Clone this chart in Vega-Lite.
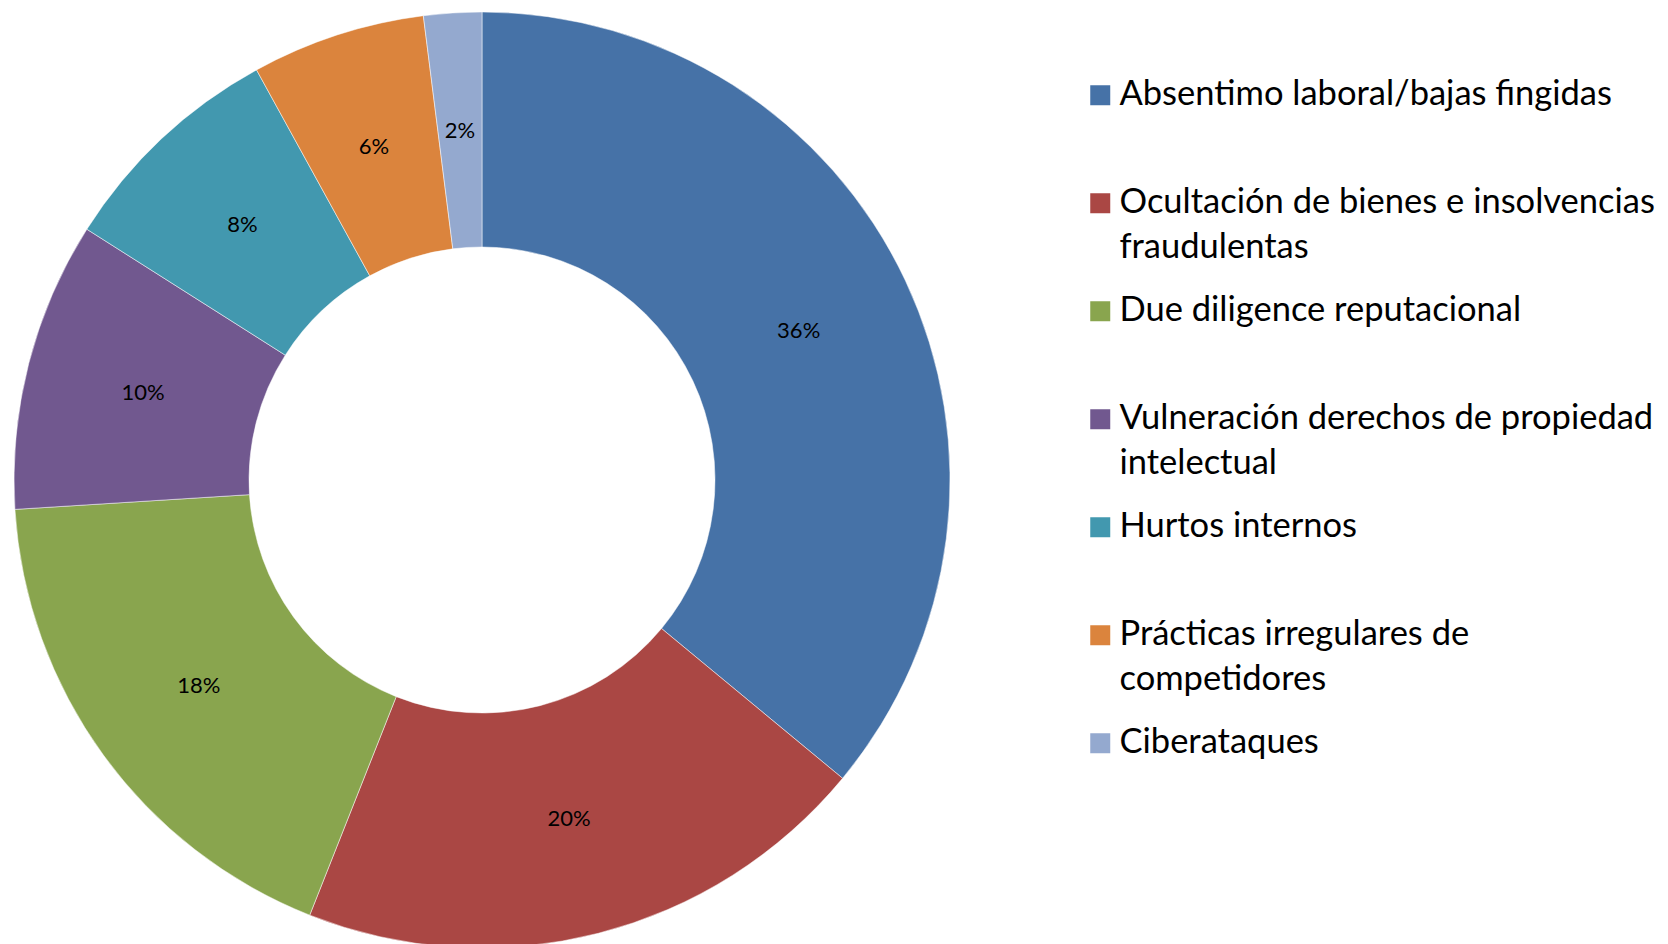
{
  "$schema": "https://vega.github.io/schema/vega-lite/v6.json",
  "width": 964,
  "height": 960,
  "autosize": "none",
  "padding": {"left": 0, "top": 0, "right": 704, "bottom": 0},
  "background": "white",
  "view": {"stroke": null},
  "config": {"style": {"guide-label": {"lineHeight": 45}}},
  "data": {
    "values": [
      {"idx": 1, "cat": "Absentimo laboral/bajas fingidas", "pct": 36, "label": "36%"},
      {"idx": 2, "cat": "Ocultación de bienes e insolvencias fraudulentas", "pct": 20, "label": "20%"},
      {"idx": 3, "cat": "Due diligence reputacional", "pct": 18, "label": "18%"},
      {"idx": 4, "cat": "Vulneración derechos de propiedad intelectual", "pct": 10, "label": "10%"},
      {"idx": 5, "cat": "Hurtos internos", "pct": 8, "label": "8%"},
      {"idx": 6, "cat": "Prácticas irregulares de competidores", "pct": 6, "label": "6%"},
      {"idx": 7, "cat": "Ciberataques", "pct": 2, "label": "2%"}
    ]
  },
  "encoding": {
    "theta": {"field": "pct", "type": "quantitative", "stack": true},
    "order": {"field": "idx", "type": "quantitative"}
  },
  "layer": [
    {
      "mark": {"type": "arc", "outerRadius": 468, "innerRadius": 233, "stroke": "white", "strokeWidth": 0.5},
      "encoding": {
        "color": {
          "field": "cat",
          "type": "nominal",
          "sort": null,
          "scale": {
            "domain": [
              "Absentimo laboral/bajas fingidas",
              "Ocultación de bienes e insolvencias fraudulentas",
              "Due diligence reputacional",
              "Vulneración derechos de propiedad intelectual",
              "Hurtos internos",
              "Prácticas irregulares de competidores",
              "Ciberataques"
            ],
            "range": ["#4672A7", "#AA4744", "#89A54E", "#71588F", "#4298AF", "#DB843D", "#94A9CF"]
          },
          "legend": {
            "title": null,
            "orient": "none",
            "legendX": 1083,
            "legendY": 78,
            "padding": 0,
            "symbolType": "square",
            "symbolSize": 400,
            "symbolStrokeWidth": 0,
            "labelFont": "Lato",
            "labelFontSize": 34.5,
            "labelColor": "black",
            "labelLimit": 700,
            "labelOffset": 2,
            "labelBaseline": "middle",
            "gridAlign": "all",
            "rowPadding": 28,
            "labelExpr": "datum.label == 'Ocultación de bienes e insolvencias fraudulentas' ? ['Ocultación de bienes e insolvencias', 'fraudulentas'] : datum.label == 'Vulneración derechos de propiedad intelectual' ? ['Vulneración derechos de propiedad', 'intelectual'] : datum.label == 'Prácticas irregulares de competidores' ? ['Prácticas irregulares de', 'competidores'] : datum.label"
          }
        }
      }
    },
    {
      "mark": {"type": "text", "radius": 350, "font": "Lato", "fontSize": 22, "color": "black"},
      "encoding": {"text": {"field": "label", "type": "nominal"}}
    }
  ]
}
